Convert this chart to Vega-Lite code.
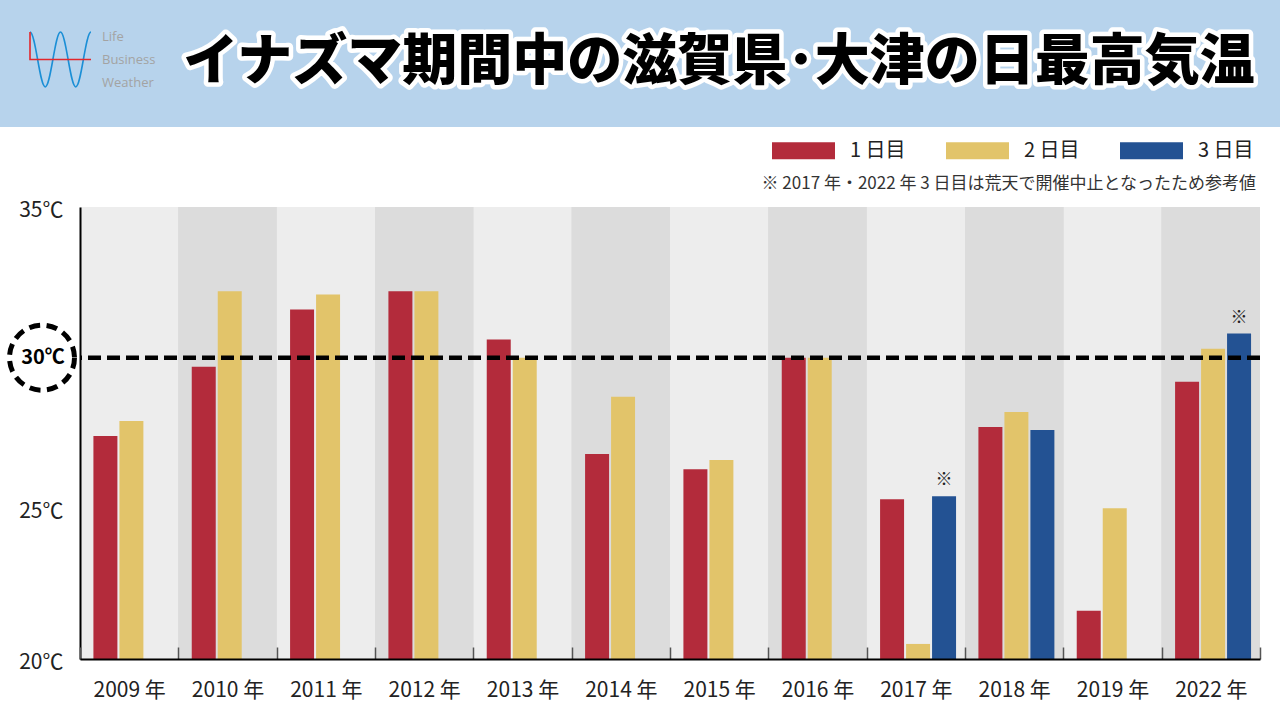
{
  "$schema": "https://vega.github.io/schema/vega-lite/v6.json",
  "width": 1180,
  "height": 452,
  "autosize": {"type": "none"},
  "padding": {"left": 80, "top": 207, "right": 20, "bottom": 61},
  "background": "white",
  "config": {
    "font": "Noto Sans CJK JP",
    "view": {"fill": "#ededed", "stroke": null}
  },
  "data": {
    "values": [
      {"year": "2009 年", "day": "1 日目", "temp": 27.4},
      {"year": "2009 年", "day": "2 日目", "temp": 27.9},
      {"year": "2010 年", "day": "1 日目", "temp": 29.7},
      {"year": "2010 年", "day": "2 日目", "temp": 32.2},
      {"year": "2011 年", "day": "1 日目", "temp": 31.6},
      {"year": "2011 年", "day": "2 日目", "temp": 32.1},
      {"year": "2012 年", "day": "1 日目", "temp": 32.2},
      {"year": "2012 年", "day": "2 日目", "temp": 32.2},
      {"year": "2013 年", "day": "1 日目", "temp": 30.6},
      {"year": "2013 年", "day": "2 日目", "temp": 30.0},
      {"year": "2014 年", "day": "1 日目", "temp": 26.8},
      {"year": "2014 年", "day": "2 日目", "temp": 28.7},
      {"year": "2015 年", "day": "1 日目", "temp": 26.3},
      {"year": "2015 年", "day": "2 日目", "temp": 26.6},
      {"year": "2016 年", "day": "1 日目", "temp": 30.0},
      {"year": "2016 年", "day": "2 日目", "temp": 30.0},
      {"year": "2017 年", "day": "1 日目", "temp": 25.3},
      {"year": "2017 年", "day": "2 日目", "temp": 20.5},
      {"year": "2017 年", "day": "3 日目", "temp": 25.4, "note": "※"},
      {"year": "2018 年", "day": "1 日目", "temp": 27.7},
      {"year": "2018 年", "day": "2 日目", "temp": 28.2},
      {"year": "2018 年", "day": "3 日目", "temp": 27.6},
      {"year": "2019 年", "day": "1 日目", "temp": 21.6},
      {"year": "2019 年", "day": "2 日目", "temp": 25.0},
      {"year": "2022 年", "day": "1 日目", "temp": 29.2},
      {"year": "2022 年", "day": "2 日目", "temp": 30.3},
      {"year": "2022 年", "day": "3 日目", "temp": 30.8, "note": "※"}
    ]
  },
  "layer": [
    {
      "data": {"values": [{}]},
      "mark": {"type": "rect", "fill": "#b7d3ec"},
      "encoding": {
        "x": {"value": -80}, "x2": {"value": 1200},
        "y": {"value": -207}, "y2": {"value": -80}
      }
    },
    {
      "data": {"values": [{}]},
      "mark": {
        "type": "point",
        "shape": "M-1,-0.9C-0.82,-0.9,-0.68,0.9,-0.5,0.9C-0.32,0.9,-0.18,-0.9,0,-0.9C0.18,-0.9,0.32,0.9,0.5,0.9C0.68,0.9,0.82,-0.9,1,-0.9",
        "size": 3721, "filled": false, "stroke": "#1b8fd6", "strokeWidth": 1.6, "opacity": 1
      },
      "encoding": {"x": {"value": -19.5}, "y": {"value": -147.5}}
    },
    {
      "data": {"values": [{}]},
      "mark": {
        "type": "point",
        "shape": "M-1,-0.9L-1,0L1,0",
        "size": 3721, "filled": false, "stroke": "#e3262b", "strokeWidth": 1.6, "opacity": 1
      },
      "encoding": {"x": {"value": -19.5}, "y": {"value": -147.5}}
    },
    {
      "data": {"values": [{}]},
      "mark": {
        "type": "text", "text": ["Life", "Business", "Weather"], "lineHeight": 23,
        "align": "left", "baseline": "middle", "fontSize": 13, "color": "#a3a3a3", "font": "Open Sans"
      },
      "encoding": {"x": {"value": 22}, "y": {"value": -170}}
    },
    {
      "data": {"values": [{}]},
      "mark": {
        "type": "text", "text": "イナズマ期間中の滋賀県･大津の日最高気温",
        "align": "center", "baseline": "middle", "fontSize": 55, "fontWeight": 900,
        "fill": "white", "stroke": "white", "strokeWidth": 9, "strokeJoin": "round"
      },
      "encoding": {"x": {"value": 639}, "y": {"value": -145}}
    },
    {
      "data": {"values": [{}]},
      "mark": {
        "type": "text", "text": "イナズマ期間中の滋賀県･大津の日最高気温",
        "align": "center", "baseline": "middle", "fontSize": 55, "fontWeight": 900,
        "fill": "black"
      },
      "encoding": {"x": {"value": 639}, "y": {"value": -145}}
    },
    {
      "data": {"values": [{}]},
      "mark": {
        "type": "text", "text": "※ 2017 年・2022 年 3 日目は荒天で開催中止となったため参考値",
        "align": "right", "baseline": "middle", "fontSize": 17, "color": "#333333"
      },
      "encoding": {"x": {"value": 1176}, "y": {"value": -23}}
    },
    {
      "transform": [{"filter": {"field": "year", "oneOf": ["2010 年", "2012 年", "2014 年", "2016 年", "2018 年", "2022 年"]}}],
      "mark": {"type": "rect", "fill": "#dcdcdc"},
      "encoding": {
        "x": {
          "field": "year", "type": "nominal", "title": null,
          "sort": ["2009 年", "2010 年", "2011 年", "2012 年", "2013 年", "2014 年", "2015 年", "2016 年", "2017 年", "2018 年", "2019 年", "2022 年"],
          "scale": {"paddingInner": 0, "paddingOuter": 0},
          "axis": {
            "labelAngle": 0, "labelFontSize": 21, "labelColor": "#222222", "labelPadding": 32,
            "tickBand": "extent", "tickSize": -12, "tickColor": "#555555", "tickWidth": 1.5,
            "domainColor": "black", "domainWidth": 2
          }
        },
        "y": {"datum": 35, "type": "quantitative"},
        "y2": {"datum": 20}
      }
    },
    {
      "mark": {"type": "bar"},
      "encoding": {
        "x": {
          "field": "year", "type": "nominal", "title": null,
          "sort": ["2009 年", "2010 年", "2011 年", "2012 年", "2013 年", "2014 年", "2015 年", "2016 年", "2017 年", "2018 年", "2019 年", "2022 年"],
          "scale": {"paddingInner": 0, "paddingOuter": 0},
          "axis": {
            "labelAngle": 0, "labelFontSize": 21, "labelColor": "#222222", "labelPadding": 32,
            "tickBand": "extent", "tickSize": -12, "tickColor": "#555555", "tickWidth": 1.5,
            "domainColor": "black", "domainWidth": 2
          }
        },
        "xOffset": {
          "field": "day", "type": "nominal",
          "scale": {"domain": ["1 日目", "2 日目", "3 日目"], "paddingInner": 0.077, "paddingOuter": 0.43, "align": 0.6}
        },
        "y": {
          "field": "temp", "type": "quantitative", "title": null,
          "scale": {"domain": [20, 35], "nice": false, "zero": false},
          "axis": {
            "values": [20, 25, 35], "labelExpr": "datum.value + '℃'", "labelFontSize": 21,
            "labelColor": "#222222", "labelPadding": 17, "labelOffset": 3, "ticks": false, "grid": false,
            "domainColor": "black", "domainWidth": 2
          }
        },
        "y2": {"datum": 20},
        "color": {
          "field": "day", "type": "nominal",
          "scale": {"domain": ["1 日目", "2 日目", "3 日目"], "range": ["#b32b3b", "#e2c46a", "#235293"]},
          "legend": {
            "title": null, "orient": "none", "legendX": 692, "legendY": -88, "direction": "horizontal",
            "symbolType": "M-1,-0.27L1,-0.27L1,0.27L-1,0.27Z", "symbolSize": 3969, "symbolStrokeWidth": 0,
            "symbolOpacity": 1, "labelFontSize": 20, "labelColor": "#222222", "labelOffset": 15,
            "columnPadding": 40, "padding": 0
          }
        }
      }
    },
    {
      "transform": [{"filter": "datum.note"}],
      "mark": {"type": "text", "fontSize": 17, "dy": -16, "color": "#222222", "baseline": "middle"},
      "encoding": {
        "x": {"field": "year", "type": "nominal", "sort": ["2009 年", "2010 年", "2011 年", "2012 年", "2013 年", "2014 年", "2015 年", "2016 年", "2017 年", "2018 年", "2019 年", "2022 年"]},
        "xOffset": {"field": "day", "type": "nominal"},
        "y": {"field": "temp", "type": "quantitative"},
        "text": {"field": "note"}
      }
    },
    {
      "data": {"values": [{}]},
      "mark": {"type": "rule", "color": "black", "strokeWidth": 4.5, "strokeDash": [13, 6]},
      "encoding": {"y": {"datum": 30}}
    },
    {
      "data": {"values": [{}]},
      "mark": {
        "type": "point", "shape": "circle", "size": 4225, "filled": false,
        "stroke": "black", "strokeWidth": 5, "strokeDash": [11, 6.5], "opacity": 1
      },
      "encoding": {"y": {"datum": 30}, "x": {"value": -38}}
    },
    {
      "data": {"values": [{}]},
      "mark": {"type": "text", "text": "30℃", "fontSize": 20, "fontWeight": "bold", "color": "black", "align": "center", "baseline": "middle"},
      "encoding": {"y": {"datum": 30}, "x": {"value": -37}}
    }
  ]
}
